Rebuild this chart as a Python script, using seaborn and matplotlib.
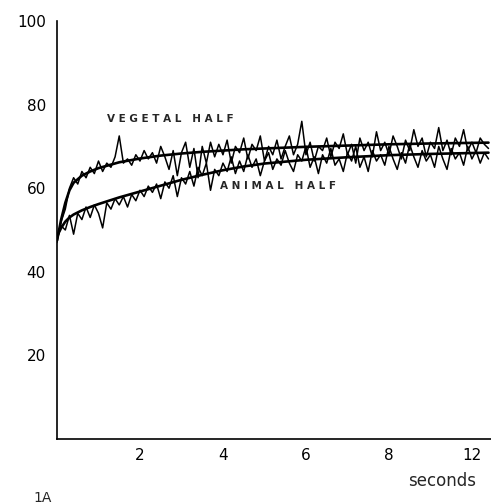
import numpy as np
import pandas as pd
import matplotlib
matplotlib.use("Agg")
import matplotlib.pyplot as plt
import seaborn as sns

# noisy recordings, one value every 0.1 s
vegetal_trace = [47, 52, 55, 60, 62.5, 61, 64, 62.5, 65, 63.5,
                 66.5, 64, 66, 65, 67.5, 72.5, 66, 67, 65.5, 68,
                 66.5, 69, 67, 68.5, 66, 70, 67.5, 64.5, 69, 63,
                 68.5, 71, 65, 69.5, 62.5, 70, 66, 71, 67.5, 70.5,
                 68, 71.5, 66, 70, 68.5, 72, 67, 70.5, 69, 72.5,
                 66.5, 70, 68, 71.5, 67, 70, 72.5, 68, 70.5, 76,
                 68, 71, 66.5, 70, 69, 72, 67.5, 71, 69.5, 73,
                 68, 70.5, 66, 72, 69, 71, 67.5, 73.5, 69, 71,
                 68, 72.5, 70, 67, 71.5, 69, 74, 70, 72, 67.5,
                 71, 69.5, 74.5, 69, 71.5, 68, 72, 70, 74, 69,
                 71, 68.5, 72, 70.5, 69.5]
animal_trace = [48, 51, 50, 53.5, 49, 54, 52.5, 55.5, 53, 56,
                54, 50.5, 56.5, 55, 57.5, 56, 58, 55.5, 58.5, 57,
                59.5, 58, 60.5, 59, 61, 57.5, 61.5, 60, 63, 58,
                62.5, 61, 64, 60.5, 65, 63, 66, 59.5, 64.5, 63,
                66, 64, 67.5, 63.5, 66.5, 64, 68, 65, 67, 63,
                66.5, 68.5, 64.5, 67, 65.5, 69, 66, 64, 68, 66.5,
                70, 65, 67.5, 63.5, 68, 66, 69.5, 65.5, 67, 64,
                68.5, 66.5, 70, 65, 67.5, 64, 69, 66.5, 68, 65.5,
                70, 67, 64.5, 68.5, 66, 70.5, 67.5, 65, 69, 66.5,
                68, 65, 70, 67, 64.5, 69.5, 67, 68.5, 65.5, 70,
                67, 69, 66, 68.5, 67]

# fitted curves
fit_time = [0, 0.1, 0.2, 0.3, 0.4, 0.6, 0.8, 1, 1.5, 2, 2.5, 3, 3.5, 4,
            4.5, 5, 6, 7, 8, 9, 10.4]
vegetal_fit = [47.5, 52.5, 56.5, 59.5, 61.3, 63, 64, 64.8, 66.2, 67.1, 67.8,
               68.3, 68.7, 69, 69.3, 69.5, 69.9, 70.2, 70.5, 70.7, 70.9]
animal_fit = [48.5, 50.5, 52, 53, 53.7, 54.7, 55.5, 56.2, 57.8, 59.2, 60.6,
              62, 63.2, 64.3, 65.2, 65.9, 66.8, 67.4, 67.9, 68.2, 68.5]

x_ticks = [2, 4, 6, 8, 10]
x_tick_labels = ["2", "4", "6", "8", "12"]
y_ticks = [20, 40, 60, 80, 100]

t = np.round(np.arange(len(vegetal_trace)) * 0.1, 1)
traces = pd.DataFrame({"t": np.concatenate([t, t]),
                       "value": vegetal_trace + animal_trace,
                       "half": ["vegetal"] * len(t) + ["animal"] * len(t)})
fits = pd.DataFrame({"t": fit_time * 2,
                     "value": vegetal_fit + animal_fit,
                     "half": ["vegetal"] * len(fit_time) + ["animal"] * len(fit_time)})

sns.set_style("white")
plt.rcParams["font.family"] = ["DejaVu Sans"]

fig = plt.figure(figsize=(4.91, 5.04), dpi=100)
ax = fig.add_axes([57 / 491, 1 - 439 / 504, (491 - 57) / 491, (439 - 21) / 504])

sns.lineplot(data=traces, x="t", y="value", units="half", estimator=None,
             color="black", linewidth=1.1, ax=ax)
sns.lineplot(data=fits, x="t", y="value", units="half", estimator=None,
             color="black", linewidth=1.9, ax=ax)

ax.set_xlim(0, 10.46)
ax.set_ylim(0, 100)
for s in ["top", "right"]:
    ax.spines[s].set_visible(False)
for s in ["left", "bottom"]:
    ax.spines[s].set_linewidth(1.2)
    ax.spines[s].set_color("black")

ax.set_yticks(y_ticks)
ax.set_yticklabels([str(v) for v in y_ticks], fontsize=11)
ax.set_xticks([0] + x_ticks)
ax.set_xticklabels([""] + x_tick_labels, fontsize=11)
ax.tick_params(axis="y", direction="out", length=5, width=1, pad=3, colors="black")
ax.tick_params(axis="x", direction="inout", length=5, width=1, pad=4, colors="black")
ax.set_xlabel("")
ax.set_ylabel("")

ax.text(1.2, 76.6, "V E G E T A L   H A L F", fontsize=7.5, fontweight="bold", va="center")
ax.text(3.93, 60.5, "A N I M A L   H A L F", fontsize=7.5, fontweight="bold", va="center")

fig.text(442 / 491, 1 - 481 / 504, "seconds", fontsize=12, ha="center", va="center")
fig.text(43 / 491, 1 - 498 / 504, "1A", fontsize=10, ha="center", va="center")

fig.savefig("out.png", dpi=100)
